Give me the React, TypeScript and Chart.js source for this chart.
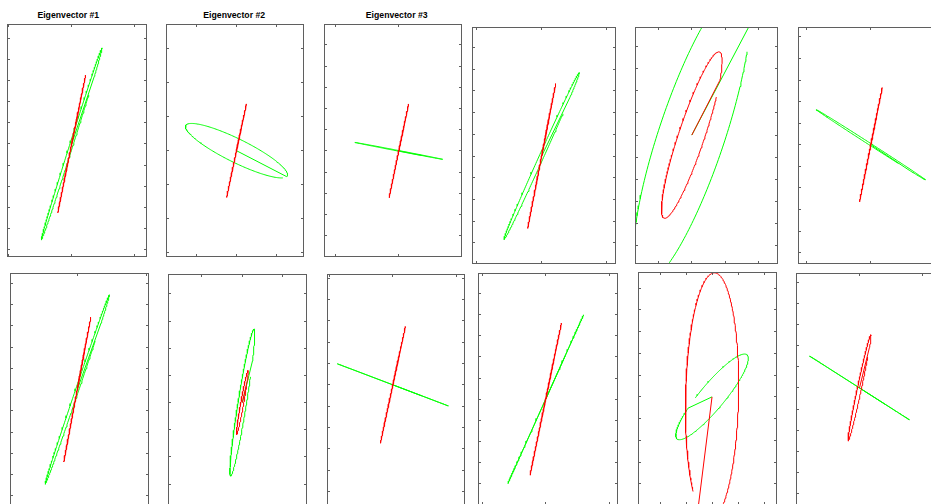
import React, { useEffect, useRef } from "react";
import { Chart, registerables } from "chart.js";

Chart.register(...registerables);

// ---- Titles (only the first three panels have one) ----
const titles: string[] = ["Eigenvector #1", "Eigenvector #2", "Eigenvector #3"];

// ---- Axis ranges per panel (tick step is 1 unit on every axis) ----
const xMin: number[] = [-1.022, -1.748, -1.19, -1.073, -1.7, -1.13, -0.971, -1.827, -1.043, -1.07, -2.85, -1.003];
const xMax: number[] = [1.19, 1.674, 1.005, 1.144, 2.58, 1.15, 1.035, 1.59, 1.142, 1.142, 2.5, 1.35];
const yMin: number[] = [-5.35, -3.13, -5.01, -4.98, -5.82, -5.53, -5.67, -3.95, -5.87, -5.01, -4.97, -5.79];
const yMax: number[] = [5.68, 3.73, 5.99, 5.95, 4.88, 5.46, 5.49, 4.73, 5.2, 5.97, 5.74, 5.45];

// ---- Ellipses (centred at the origin): semi-axis vectors, start angle ----
const ellipseCenter: [number, number] = [0, 0];

const redMajor: [number, number][] = [
  [0.22, 3.26], [0.245, 1.377], [0.155, 2.215], [0.216, 3.34], [0.829, 3.752], [0.176, 2.65],
  [0.195, 3.41], [0.141, 1.18], [0.198, 2.74], [0.248, 3.6], [0.1, 5.7], [0.179, 2.526],
];
const redMinor: [number, number][] = [
  [0.0008, -0.0005], [0.001, -0.0002], [0.0008, -0.0001], [0.001, -0.0004], [0.369, -0.185], [0.002, -0.001],
  [0.0008, -0.0005], [0.0365, -0.0097], [0.0008, -0.0004], [0.0006, -0.0004], [1.019, -0.026], [0.031, -0.02],
];
const redStart: number[] = [45, 45, 45, 45, 46, 45, 45, 45, 45, 45, 206, 40];

const greenMajor: [number, number][] = [
  [0.48, 4.55], [1.26, -0.74], [0.7, -0.4], [0.58, 3.85], [1.48, 6.71], [0.848, -1.63],
  [0.464, 4.465], [0.289, 2.705], [0.88, -0.99], [0.598, 3.99], [1.346, 1.935], [0.79, -1.515],
];
const greenMinor: [number, number][] = [
  [0.025, -0.023], [-0.127, -0.31], [-0.001, -0.015], [0.032, -0.044], [0.94, -0.468], [-0.0084, -0.039],
  [0.022, -0.024], [0.102, -0.024], [-0.001, -0.002], [0.001, -0.001], [0.369, -0.368], [-0.001, -0.002],
];
const greenStart: number[] = [45, 5, 45, 45, 38, 45, 45, 55, 45, 45, 244, 45];

// angular extent of each drawn outline (degrees, clockwise, leaves a small gap)
const sweepDeg = -346;

// ---- Layout (page pixels): left, top, right, bottom of each plot box ----
const boxes: [number, number, number, number][] = [
  [7, 24, 147, 257], [166, 24, 304, 257], [324, 24, 462, 257], [472, 27, 616, 264], [635, 27, 778, 264], [798, 27, 945, 264],
  [10, 273, 149, 510], [168, 274, 307, 510], [327, 274, 465, 510], [478, 273, 618, 505], [638, 272, 777, 505], [796, 273, 945, 510],
];
const titlePos: [number, number][] = [[68.3, 11.3], [234.2, 11.3], [396.7, 11.3]];

function outline(u: [number, number], v: [number, number], t0: number) {
  const pts = [{ x: ellipseCenter[0], y: ellipseCenter[1] }];
  const n = Math.round(Math.abs(sweepDeg) / 1.5);
  for (let i = 0; i <= n; i++) {
    const t = ((t0 + (sweepDeg * i) / n) * Math.PI) / 180;
    pts.push({
      x: ellipseCenter[0] + u[0] * Math.cos(t) + v[0] * Math.sin(t),
      y: ellipseCenter[1] + u[1] * Math.cos(t) + v[1] * Math.sin(t),
    });
  }
  return pts;
}

const boxPlugin = {
  id: "matlabBox",
  afterDatasetsDraw(chart: any) {
    const { ctx, chartArea: a } = chart;
    const xs = chart.scales.x;
    const ys = chart.scales.y;
    const tl = 3;
    ctx.save();
    ctx.strokeStyle = "#5f5f5f";
    ctx.lineWidth = 1;
    ctx.strokeRect(a.left + 0.5, a.top + 0.5, a.right - a.left - 1, a.bottom - a.top - 1);
    ctx.beginPath();
    for (let val = Math.ceil(xs.min); val <= xs.max; val++) {
      const p = Math.floor(xs.getPixelForValue(val)) + 0.5;
      ctx.moveTo(p, a.top);
      ctx.lineTo(p, a.top + tl);
      ctx.moveTo(p, a.bottom);
      ctx.lineTo(p, a.bottom - tl);
    }
    for (let val = Math.ceil(ys.min); val <= ys.max; val++) {
      const p = Math.floor(ys.getPixelForValue(val)) + 0.5;
      ctx.moveTo(a.left, p);
      ctx.lineTo(a.left + tl, p);
      ctx.moveTo(a.right, p);
      ctx.lineTo(a.right - tl, p);
    }
    ctx.stroke();
    ctx.restore();
  },
};

function Panel({ i }: { i: number }) {
  const ref = useRef<HTMLCanvasElement | null>(null);
  const [L, T, R, B] = boxes[i];
  const W = R - L;
  const H = B - T;
  useEffect(() => {
    if (!ref.current) return;
    const chart = new Chart(ref.current, {
      type: "scatter",
      data: {
        datasets: [
          {
            data: outline(redMajor[i], redMinor[i], redStart[i]),
            showLine: true,
            borderColor: "#ff0000",
            borderWidth: 1,
            pointRadius: 0,
            fill: false,
            tension: 0,
            clip: 0,
          } as any,
          {
            data: outline(greenMajor[i], greenMinor[i], greenStart[i]),
            showLine: true,
            borderColor: "#00ff00",
            borderWidth: 1,
            pointRadius: 0,
            fill: false,
            tension: 0,
            clip: 0,
          } as any,
        ],
      },
      options: {
        animation: false,
        responsive: false,
        devicePixelRatio: 1,
        events: [],
        layout: { padding: 0 },
        plugins: { legend: { display: false }, tooltip: { enabled: false }, title: { display: false } },
        scales: {
          x: { type: "linear", min: xMin[i], max: xMax[i], display: false },
          y: { type: "linear", min: yMin[i], max: yMax[i], display: false },
        },
      },
      plugins: [boxPlugin],
    });
    return () => chart.destroy();
  }, [i]);
  return (
    <canvas
      ref={ref}
      width={W}
      height={H}
      style={{ position: "absolute", left: L, top: T, width: W, height: H, display: "block" }}
    />
  );
}

export default function App() {
  return (
    <div
      style={{
        position: "fixed",
        left: 0,
        top: 0,
        width: 931,
        height: 504,
        overflow: "hidden",
        background: "#ffffff",
      }}
    >
      {titles.map((t, k) => (
        <div
          key={t}
          style={{
            position: "absolute",
            left: titlePos[k][0],
            top: titlePos[k][1],
            transform: "translateX(-50%)",
            font: 'bold 8.7px "Liberation Sans", Arial, sans-serif',
            lineHeight: "8.7px",
            color: "#000",
            whiteSpace: "nowrap",
          }}
        >
          {t}
        </div>
      ))}
      {boxes.map((_, i) => (
        <Panel key={i} i={i} />
      ))}
    </div>
  );
}
